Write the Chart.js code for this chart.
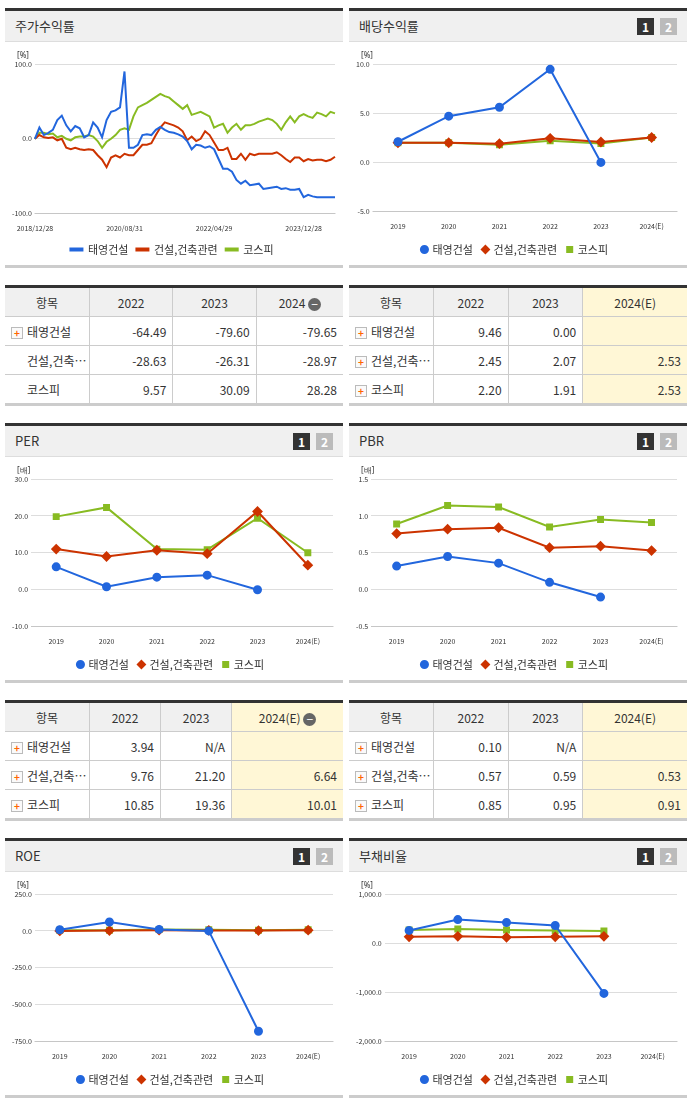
<!DOCTYPE html>
<html><head><meta charset="utf-8">
<script src="https://cdn.jsdelivr.net/npm/chart.js@4"></script>
<style>
body{margin:0;background:#fff;font-family:"Noto Sans CJK KR","Noto Sans",sans-serif;color:#333;}
.wrap{position:absolute;left:5px;top:8px;width:682px;display:grid;grid-template-columns:338px 338px;column-gap:6px;}
.panel{border-top:3px solid #333;border-bottom:3px solid #ccc;height:254px;position:relative;margin-bottom:17px}
.hd{background:#f0f0f0;height:30px;line-height:30px;padding-left:10px;font-size:13px;border-bottom:1px solid #ddd;position:relative}
.bd{position:absolute;top:7px;width:17px;height:17px;line-height:17px;text-align:center;color:#fff;font-size:12px;font-weight:bold}
.b1{right:33px;background:#333}.b2{right:10px;background:#bbb}
.cv{position:absolute;left:0;top:31px;width:338px;height:223px}
table{border-collapse:collapse;width:338px;font-size:12px;border-top:3px solid #333;border-bottom:3px solid #ccc;margin-bottom:17px;align-self:start}
th{background:#f0f0f0;font-weight:normal;height:28px;padding:0;border-left:1px solid #ccc;border-bottom:1px solid #ccc}
td{height:28px;padding:0 6px 0 0;border-left:1px solid #ccc;border-bottom:1px solid #ccc;text-align:right}
th:first-child,td:first-child{border-left:none}
td:first-child{text-align:left;padding-left:6px;padding-right:0;white-space:nowrap}
.pl{display:inline-block;width:10px;height:10px;border:1px solid #bbb;color:#f60;font-size:10px;line-height:9px;text-align:center;margin-right:4px;font-weight:bold;background:#fafafa}
.sp{display:inline-block;width:16px}
.y{background:#fff7d6}
.mn{display:inline-block;width:13px;height:13px;border-radius:7px;background:#666;color:#fff;line-height:12px;text-align:center;font-size:12px;vertical-align:-1px}
</style></head><body>
<div class="wrap">
<div class="panel"><div class="hd">주가수익률</div><div class="cv"><canvas id="c0"></canvas></div></div>
<div class="panel"><div class="hd">배당수익률<span class="bd b1">1</span><span class="bd b2">2</span></div><div class="cv"><canvas id="c1"></canvas></div></div>
<table id="t0"></table><table id="t1"></table>
<div class="panel"><div class="hd">PER<span class="bd b1">1</span><span class="bd b2">2</span></div><div class="cv"><canvas id="c2"></canvas></div></div>
<div class="panel"><div class="hd">PBR<span class="bd b1">1</span><span class="bd b2">2</span></div><div class="cv"><canvas id="c3"></canvas></div></div>
<table id="t2"></table><table id="t3"></table>
<div class="panel"><div class="hd">ROE<span class="bd b1">1</span><span class="bd b2">2</span></div><div class="cv"><canvas id="c4"></canvas></div></div>
<div class="panel"><div class="hd">부채비율<span class="bd b1">1</span><span class="bd b2">2</span></div><div class="cv"><canvas id="c5"></canvas></div></div>
</div>
<script>
const names = ['태영건설', '건설,건축관련', '코스피'];
const colors = ['#2266dd', '#cc3300', '#88bb22'];
const years = ['2019', '2020', '2021', '2022', '2023', '2024(E)'];

// 주가수익률 (monthly)
const stockTicks = {0: '2018/12/28', 20: '2020/08/31', 40: '2022/04/29', 60: '2023/12/28'};
const stockBlue = [0,15,5,8,12,25,31,18,10,17,14,2,5,22,15,2,25,36,38,42,90,-12,-12,-8,5,6,5,12,16,12,9,8,6,3,-3,-14,-8,-9,-12,-10,-14,-27,-40,-40,-44,-55,-60,-56,-62,-61,-60,-67,-66,-65,-64,-67,-66,-68,-68,-67,-78,-75,-77,-78,-78,-78,-78,-78];
const stockRed = [0,5,2,1,2,-2,0,-12,-14,-12,-14,-15,-14,-15,-22,-28,-38,-25,-22,-25,-20,-22,-22,-15,-8,-8,-6,5,15,22,20,18,15,10,-2,3,-3,0,10,5,-5,-15,-15,-12,-27,-27,-20,-28,-20,-22,-20,-20,-20,-20,-18,-22,-27,-31,-25,-25,-30,-27,-29,-28,-28,-30,-28,-24];
const stockGreen = [0,8,8,6,7,2,4,0,-2,2,3,3,5,3,-3,-12,-4,0,5,12,14,12,30,42,45,48,52,56,60,57,55,50,45,40,45,32,34,36,33,30,15,18,20,8,15,20,12,18,18,20,23,25,27,25,20,12,22,30,22,30,33,30,28,35,33,30,36,34];

const divVals = [[2.1,4.7,5.6,9.46,0.00,null],[2.0,2.0,1.9,2.45,2.07,2.53],[2.0,2.0,1.8,2.20,1.91,2.53]];
const perVals = [[6.2,0.8,3.4,3.94,0,null],[11,9,10.7,9.76,21.20,6.64],[19.8,22.3,11,10.85,19.36,10.01]];
const pbrVals = [[0.32,0.45,0.36,0.10,-0.1,null],[0.76,0.82,0.84,0.57,0.59,0.53],[0.89,1.14,1.12,0.85,0.95,0.91]];
const roeVals = [[8,60,10,0,-680,null],[0,2,5,3,2,5],[5,5,10,8,4,8]];
const debtVals = [[260,480,420,360,-1020,null],[130,140,120,130,140,null],[270,290,270,260,250,null]];

const tables = [
  {hdr:['2022','2023','2024'], minus:true, rows:[['-64.49','-79.60','-79.65'],['-28.63','-26.31','-28.97'],['9.57','30.09','28.28']], plus:[1,0,0], y:false},
  {hdr:['2022','2023','2024(E)'], minus:false, rows:[['9.46','0.00',''],['2.45','2.07','2.53'],['2.20','1.91','2.53']], plus:[1,1,1], y:true},
  {hdr:['2022','2023','2024(E)'], minus:true, rows:[['3.94','N/A',''],['9.76','21.20','6.64'],['10.85','19.36','10.01']], plus:[1,1,1], y:true},
  {hdr:['2022','2023','2024(E)'], minus:false, rows:[['0.10','N/A',''],['0.57','0.59','0.53'],['0.85','0.95','0.91']], plus:[1,1,1], y:true}
];
const rowNames = ['태영건설', '건설,건축…', '코스피'];

tables.forEach((t, i) => {
  let h = '<tr><th style="width:84px">항목</th>' + t.hdr.map((x, j) => '<th' + (j == 2 && t.y ? ' class="y"' : '') + '>' + x + (j == 2 && t.minus ? ' <span class="mn">−</span>' : '') + '</th>').join('') + '</tr>';
  t.rows.forEach((r, k) => {
    h += '<tr><td>' + (t.plus[k] ? '<span class="pl">+</span>' : '<span class="sp"></span>') + rowNames[k] + '</td>' +
      r.map((v, j) => '<td' + (j == 2 && t.y ? ' class="y"' : '') + '>' + v + '</td>').join('') + '</tr>';
  });
  document.getElementById('t' + i).innerHTML = h;
});

Chart.defaults.font.family = '"Noto Sans CJK KR","Noto Sans",sans-serif';
Chart.defaults.font.size = 8;
Chart.defaults.color = '#333';
Chart.defaults.animation = false;

const unitPlugin = {
  id: 'unit',
  afterDraw(c, a, o) {
    const ctx = c.ctx;
    ctx.save(); ctx.font = '8px "Noto Sans"'; ctx.fillStyle = '#333';
    ctx.fillText(o.text, 12, 14); ctx.restore();
  }
};

function fmt(v) {
  return Math.abs(v) >= 1000 ? v.toLocaleString('en-US', {minimumFractionDigits: 1}) : v.toFixed(1);
}

function yearChart(id, vals, min, max, step, unit) {
  const styles = ['circle', 'rectRot', 'rect'];
  new Chart(document.getElementById(id), {
    type: 'line',
    data: {labels: years, datasets: vals.map((d, i) => ({
      label: names[i], data: d, borderColor: colors[i], backgroundColor: colors[i],
      borderWidth: 2, pointStyle: styles[i], pointRadius: i == 1 ? 4 : 3.5, tension: 0
    }))},
    options: {
      responsive: true, maintainAspectRatio: false,
      layout: {padding: {top: 22, right: 10, left: 4}},
      scales: {
        x: {offset: true, grid: {display: false}, ticks: {font: {size: 7}}},
        y: {min, max, ticks: {stepSize: step, callback: fmt, font: {size: 7}}, grid: {color: '#ddd', drawTicks: false}, border: {display: false}}
      },
      plugins: {legend: {position: 'bottom', labels: {usePointStyle: true, boxWidth: 5, boxHeight: 5, padding: 10, font: {size: 11}}}, unit: {text: unit}, tooltip: {enabled: false}}
    },
    plugins: [unitPlugin]
  });
}

new Chart(document.getElementById('c0'), {
  type: 'line',
  data: {labels: stockBlue.map((_, i) => stockTicks[i] || ''), datasets: [stockBlue, stockRed, stockGreen].map((d, i) => ({
    label: names[i], data: d, borderColor: colors[i], backgroundColor: colors[i], borderWidth: 2, pointRadius: 0, tension: 0
  }))},
  options: {
    responsive: true, maintainAspectRatio: false,
    layout: {padding: {top: 22, right: 8, left: 4}},
    scales: {
      x: {grid: {display: false}, ticks: {autoSkip: false, maxRotation: 0, font: {size: 7}, callback: function(v) { return stockTicks[v] || null; }}},
      y: {min: -100, max: 100, ticks: {stepSize: 100, callback: fmt, font: {size: 7}}, grid: {color: '#ddd', drawTicks: false}, border: {display: false}}
    },
    plugins: {legend: {position: 'bottom', labels: {boxWidth: 12, boxHeight: 2, padding: 8, font: {size: 11}}}, unit: {text: '[%]'}, tooltip: {enabled: false}}
  },
  plugins: [unitPlugin]
});

yearChart('c1', divVals, -5, 10, 5, '[%]');
yearChart('c2', perVals, -10, 30, 10, '[배]');
yearChart('c3', pbrVals, -0.5, 1.5, 0.5, '[배]');
yearChart('c4', roeVals, -750, 250, 250, '[%]');
yearChart('c5', debtVals, -2000, 1000, 1000, '[%]');
</script>
</body></html>
